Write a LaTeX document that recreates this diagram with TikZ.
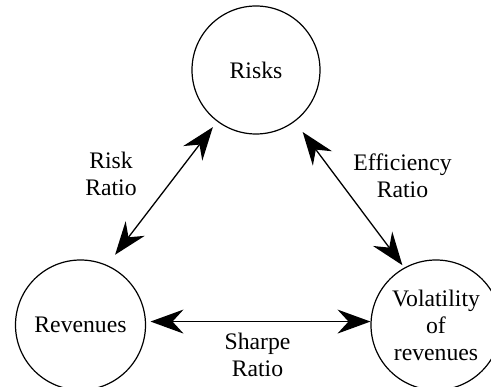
\documentclass[tikz,border=0pt]{standalone}
\usepackage{fontspec}
\setmainfont{Liberation Serif}
\usetikzlibrary{arrows.meta}
\begin{document}
\begin{tikzpicture}[x=1pt,y=-1pt,
  state/.style={circle,draw,line width=1.2pt,minimum size=130pt,inner sep=0pt,align=center,font=\fontsize{23.7}{27}\selectfont},
  lbl/.style={align=center,font=\fontsize{23.7}{27}\selectfont},
  tipstyle/.style={Stealth[length=33pt,width=24pt,inset=11pt]},
  link/.style={line width=1.3pt,{Stealth[length=33pt,width=24pt,inset=11pt]}-{Stealth[length=33pt,width=24pt,inset=11pt]}}]
\useasboundingbox (0,0) rectangle (491,387);
\clip (0,0) rectangle (491,387);
\node[state,minimum size=128pt] (risks) at (256,70) {Risks};
\node[state] (rev) at (80.5,325) {Revenues};
\node[state] (vol) at (436,325) {Volatility\\of\\revenues};
\draw[link, shorten <=13pt, shorten >=7pt] (rev.66) -- (risks.233);
\draw[link, shorten <=13pt, shorten >=3pt] (risks.307) -- (vol.119);
\draw[link, shorten <=4.5pt] (rev.3) -- (vol.177);
\node[lbl] (rr) at (111,174) {Risk\\Ratio};
\node[lbl] (er) at (402.5,176) {Efficiency\\Ratio};
\node[lbl] (sr) at (257.5,355) {Sharpe\\Ratio};
\end{tikzpicture}
\end{document}
